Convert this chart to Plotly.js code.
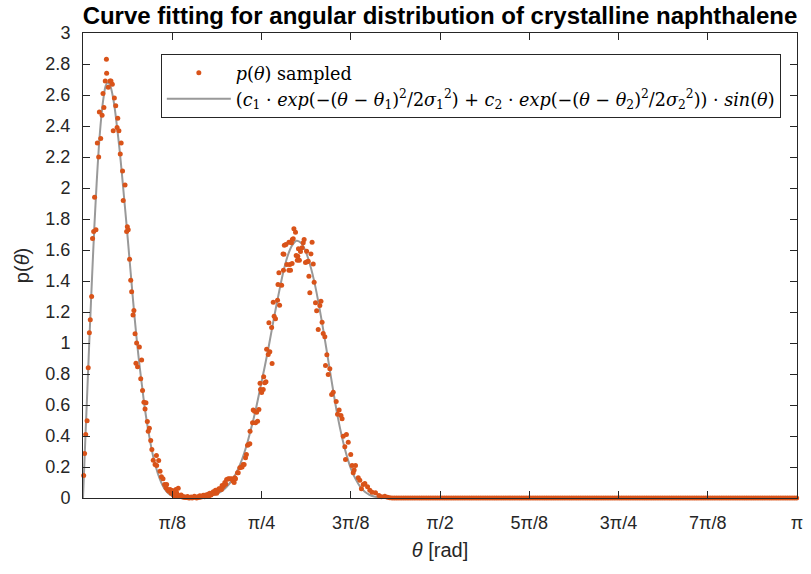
<!DOCTYPE html>
<html><head><meta charset="utf-8">
<script src="https://cdn.plot.ly/plotly-3.0.1.min.js"></script>
<style>html,body{margin:0;padding:0;background:#fff;} #chart{width:811px;height:574px;}</style>
</head><body><div id="chart"></div>
<script>
// sampled p(theta) in the active region
const thetaSampled = [
0.003,0.007,0.012,0.018,0.023,0.028,0.032,0.038,0.042,0.047,0.051,0.057,0.063,0.069,0.072,0.078,0.084,0.088,0.092,0.098,
0.103,0.104,0.111,0.119,0.123,0.129,0.133,0.138,0.144,0.150,0.153,0.158,0.164,0.168,0.174,0.177,0.185,0.192,0.195,0.199,
0.205,0.210,0.214,0.220,0.224,0.229,0.233,0.236,0.240,0.248,0.254,0.258,0.262,0.268,0.273,0.277,0.283,0.287,0.292,0.298,
0.303,0.309,0.317,0.323,0.324,0.333,0.339,0.345,0.352,0.359,0.365,0.368,0.372,0.377,0.383,0.388,0.393,0.398,0.402,0.406,
0.409,0.412,0.416,0.419,0.423,0.427,0.432,0.436,0.441,0.446,0.450,0.456,0.460,0.466,0.470,0.476,0.480,0.485,0.490,0.495,
0.500,0.505,0.510,0.514,0.520,0.525,0.529,0.535,0.540,0.544,0.550,0.555,0.558,0.563,0.568,0.573,0.578,0.583,0.588,0.593,
0.598,0.603,0.609,0.612,0.617,0.622,0.624,0.628,0.632,0.639,0.646,0.654,0.660,0.665,0.668,0.671,0.680,0.683,0.690,0.698,
0.700,0.705,0.709,0.715,0.719,0.724,0.728,0.734,0.735,0.746,0.749,0.755,0.759,0.764,0.768,0.774,0.781,0.779,0.786,0.805,
0.793,0.795,0.800,0.808,0.815,0.818,0.822,0.830,0.832,0.837,0.841,0.847,0.856,0.858,0.862,0.865,0.874,0.880,0.882,0.884,
0.886,0.893,0.897,0.906,0.906,0.910,0.913,0.917,0.920,0.921,0.925,0.928,0.935,0.938,0.943,0.945,0.948,0.952,0.957,0.964,
0.969,0.973,0.979,0.984,0.986,0.991,0.994,0.998,1.003,1.008,1.013,1.017,1.023,1.028,1.035,1.042,1.047,1.052,1.057,1.064,
1.067,1.073,1.079,1.086,1.094,1.101,1.114,1.120,1.127,1.135,1.140,1.145,1.152,1.155,1.159,1.167,1.178,1.184,1.189,1.193,
1.199,1.211,1.218,1.225,1.233,1.240,1.252,1.262,1.272,1.287,1.302,1.313,1.328,1.340,1.350
];
const pSampled = [
0.145,0.287,0.41,0.498,0.84,1.066,1.15,1.30,1.674,1.72,1.94,1.73,2.29,2.20,2.49,2.32,2.47,2.61,2.52,2.69,
2.83,2.74,2.65,2.69,2.69,2.67,2.37,2.58,2.53,2.39,2.45,2.37,2.22,2.29,2.11,1.92,2.02,1.72,1.75,1.73,
1.54,1.405,1.33,1.18,1.21,1.06,0.87,1.00,0.846,0.975,0.77,0.89,0.694,0.618,0.575,0.614,0.494,0.43,0.45,0.371,
0.313,0.244,0.216,0.274,0.21,0.242,0.173,0.137,0.124,0.087,0.066,0.087,0.055,0.045,0.055,0.03,0.048,0.02,0.027,0.012,
0.055,0.034,0.02,0.063,0.015,0.012,0.02,0.01,0.005,0.008,0.004,0.003,0.010,0.000,0.002,0.006,0.000,0.003,0.012,0.005,
0.000,0.008,0.004,0.015,0.006,0.010,0.018,0.008,0.020,0.010,0.025,0.015,0.030,0.020,0.028,0.040,0.030,0.050,0.030,0.045,
0.060,0.060,0.055,0.080,0.075,0.085,0.100,0.090,0.120,0.124,0.124,0.124,0.110,0.100,0.130,0.124,0.163,0.163,0.195,0.200,
0.200,0.216,0.216,0.260,0.280,0.340,0.345,0.350,0.430,0.485,0.567,0.560,0.485,0.554,0.495,0.571,0.700,0.740,0.680,0.750,
0.700,0.782,0.743,0.960,0.926,1.130,0.943,1.100,0.868,1.263,1.173,1.156,1.276,1.377,1.453,1.244,1.373,1.575,1.470,1.573,
1.630,1.635,1.506,1.650,1.470,1.506,1.470,1.646,1.513,1.668,1.672,1.737,1.715,1.565,1.534,1.560,1.608,1.534,1.590,1.614,
1.646,1.668,1.520,1.592,1.524,1.528,1.430,1.324,1.575,1.650,1.510,1.392,1.259,1.208,1.087,1.242,1.270,1.134,1.061,1.040,
0.855,0.924,0.797,0.834,0.668,0.683,0.623,0.540,0.567,0.532,0.511,0.399,0.330,0.248,0.410,0.360,0.280,0.210,0.163,0.180,
0.210,0.130,0.115,0.060,0.087,0.094,0.072,0.050,0.037,0.034,0.016,0.008,0.012,0.005,0.001
];
// flat tail of samples at zero
const thetaTail = [
1.36,1.37,1.38,1.39,
1.40,1.41,1.42,1.43,1.44,1.45,1.46,1.47,1.48,1.49,
1.50,1.51,1.52,1.53,1.54,1.55,1.56,1.57,1.58,1.59,
1.60,1.61,1.62,1.63,1.64,1.65,1.66,1.67,1.68,1.69,
1.70,1.71,1.72,1.73,1.74,1.75,1.76,1.77,1.78,1.79,
1.80,1.81,1.82,1.83,1.84,1.85,1.86,1.87,1.88,1.89,
1.90,1.91,1.92,1.93,1.94,1.95,1.96,1.97,1.98,1.99,
2.00,2.01,2.02,2.03,2.04,2.05,2.06,2.07,2.08,2.09,
2.10,2.11,2.12,2.13,2.14,2.15,2.16,2.17,2.18,2.19,
2.20,2.21,2.22,2.23,2.24,2.25,2.26,2.27,2.28,2.29,
2.30,2.31,2.32,2.33,2.34,2.35,2.36,2.37,2.38,2.39,
2.40,2.41,2.42,2.43,2.44,2.45,2.46,2.47,2.48,2.49,
2.50,2.51,2.52,2.53,2.54,2.55,2.56,2.57,2.58,2.59,
2.60,2.61,2.62,2.63,2.64,2.65,2.66,2.67,2.68,2.69,
2.70,2.71,2.72,2.73,2.74,2.75,2.76,2.77,2.78,2.79,
2.80,2.81,2.82,2.83,2.84,2.85,2.86,2.87,2.88,2.89,
2.90,2.91,2.92,2.93,2.94,2.95,2.96,2.97,2.98,2.99,
3.00,3.01,3.02,3.03,3.04,3.05,3.06,3.07,3.08,3.09,
3.10,3.11,3.12,3.13,3.14,3.1416
];
const pTail = [
0,0,0,0,
0,0,0,0,0,0,0,0,0,0,
0,0,0,0,0,0,0,0,0,0,
0,0,0,0,0,0,0,0,0,0,
0,0,0,0,0,0,0,0,0,0,
0,0,0,0,0,0,0,0,0,0,
0,0,0,0,0,0,0,0,0,0,
0,0,0,0,0,0,0,0,0,0,
0,0,0,0,0,0,0,0,0,0,
0,0,0,0,0,0,0,0,0,0,
0,0,0,0,0,0,0,0,0,0,
0,0,0,0,0,0,0,0,0,0,
0,0,0,0,0,0,0,0,0,0,
0,0,0,0,0,0,0,0,0,0,
0,0,0,0,0,0,0,0,0,0,
0,0,0,0,0,0,0,0,0,0,
0,0,0,0,0,0,0,0,0,0,
0,0,0,0,0,0,0,0,0,0,
0,0,0,0,0,0
];
// fitted curve
const thetaFit = [0,0.01,0.02,0.03,0.04,0.05,0.06,0.07,0.08,0.09,0.10,0.11,0.12,0.13,0.14,0.15,0.16,0.17,0.18,0.19,
0.20,0.21,0.22,0.23,0.24,0.25,0.26,0.27,0.28,0.29,0.30,0.31,0.32,0.33,0.34,0.35,0.36,0.37,0.38,0.40,0.42,0.45,
0.50,0.54,0.58,0.60,0.62,0.64,0.66,0.68,0.70,0.72,0.74,0.76,0.78,0.80,0.82,0.84,0.86,0.88,0.90,0.92,0.94,0.96,0.98,
1.00,1.02,1.04,1.06,1.08,1.10,1.12,1.14,1.16,1.18,1.20,1.22,1.24,1.26,1.28,1.30,1.35,1.40,3.1416];
const pFit = [0,0.37,0.73,1.09,1.43,1.75,2.03,2.27,2.45,2.58,2.66,2.68,2.66,2.60,2.51,2.39,2.26,2.11,1.95,1.79,
1.62,1.45,1.28,1.12,0.97,0.84,0.72,0.60,0.50,0.41,0.33,0.26,0.205,0.155,0.115,0.082,0.057,0.038,0.025,0.010,0.005,0.003,
0.003,0.008,0.022,0.035,0.055,0.085,0.125,0.18,0.25,0.34,0.45,0.57,0.71,0.85,1.00,1.16,1.31,1.45,1.56,1.63,1.66,1.645,1.59,
1.50,1.38,1.23,1.06,0.88,0.70,0.53,0.39,0.275,0.185,0.12,0.072,0.040,0.021,0.010,0.004,0.001,0,0];

const xTickVals = [0.3927, 0.7854, 1.1781, 1.5708, 1.9635, 2.3562, 2.7489, 3.14159];
const xTickText = ['π/8','π/4','3π/8','π/2','5π/8','3π/4','7π/8','π'];
const yTickVals = [0,0.2,0.4,0.6,0.8,1,1.2,1.4,1.6,1.8,2,2.2,2.4,2.6,2.8,3];
const yTickText = ['0','0.2','0.4','0.6','0.8','1','1.2','1.4','1.6','1.8','2','2.2','2.4','2.6','2.8','3'];

const nameSampled = '<i>p</i>(<i>θ</i>) sampled';
const nameFit = '(<i>c</i><sub>1</sub> · <i>exp</i>(−(<i>θ</i> − <i>θ</i><sub>1</sub>)<sup>2</sup>/2<i>σ</i><sub>1</sub><sup>2</sup>) + <i>c</i><sub>2</sub> · <i>exp</i>(−(<i>θ</i> − <i>θ</i><sub>2</sub>)<sup>2</sup>/2<i>σ</i><sub>2</sub><sup>2</sup>)) · <i>sin</i>(<i>θ</i>)';

const axisColor = '#262626';
const traces = [
  {x: thetaFit, y: pFit, type: 'scatter', mode: 'lines', name: nameFit, legendrank: 2,
   line: {color: '#999999', width: 2, shape: 'spline', smoothing: 0.8}, cliponaxis: false},
  {x: thetaSampled.concat(thetaTail), y: pSampled.concat(pTail), type: 'scatter', mode: 'markers', name: nameSampled, legendrank: 1,
   marker: {color: '#D95319', size: 5}, cliponaxis: false}
];
const layout = {
  width: 811, height: 574,
  margin: {l: 83, r: 14, t: 33, b: 75.5, pad: 0},
  paper_bgcolor: '#ffffff', plot_bgcolor: '#ffffff',
  font: {family: 'Liberation Sans, Arial, sans-serif', size: 18, color: axisColor},
  title: {text: '<b>Curve fitting for angular distribution of crystalline naphthalene</b>',
          font: {size: 24, color: '#000000', family: 'Liberation Sans, Arial, sans-serif'},
          x: 0.5, xref: 'paper', xanchor: 'center', y: 1 - 16/574, yref: 'container', yanchor: 'middle'},
  xaxis: {range: [0, 3.14159], tickmode: 'array', tickvals: xTickVals, ticktext: xTickText,
          ticks: 'inside', ticklen: 7, tickwidth: 1, tickcolor: axisColor,
          showline: true, linecolor: axisColor, linewidth: 1, mirror: 'ticks',
          showgrid: false, zeroline: false, ticklabelstandoff: 8,
          title: {text: '<i>θ</i> [rad]', standoff: 11, font: {size: 20}}},
  yaxis: {range: [0, 3], tickmode: 'array', tickvals: yTickVals, ticktext: yTickText,
          ticks: 'inside', ticklen: 7, tickwidth: 1, tickcolor: axisColor,
          showline: true, linecolor: axisColor, linewidth: 1, mirror: 'ticks',
          showgrid: false, zeroline: false, ticklabelstandoff: 8,
          title: {text: 'p(<i>θ</i>)', standoff: 10, font: {size: 20}}},
  showlegend: true,
  legend: {x: 0.109, y: 0.955, xanchor: 'left', yanchor: 'top', bgcolor: '#ffffff',
           bordercolor: axisColor, borderwidth: 1, itemwidth: 64,
           font: {family: 'DejaVu Serif, Liberation Serif, serif', size: 17.6, color: '#000000'},
           traceorder: 'normal'}
};
Plotly.newPlot('chart', traces, layout, {staticPlot: true, displayModeBar: false});
</script>
</body></html>
